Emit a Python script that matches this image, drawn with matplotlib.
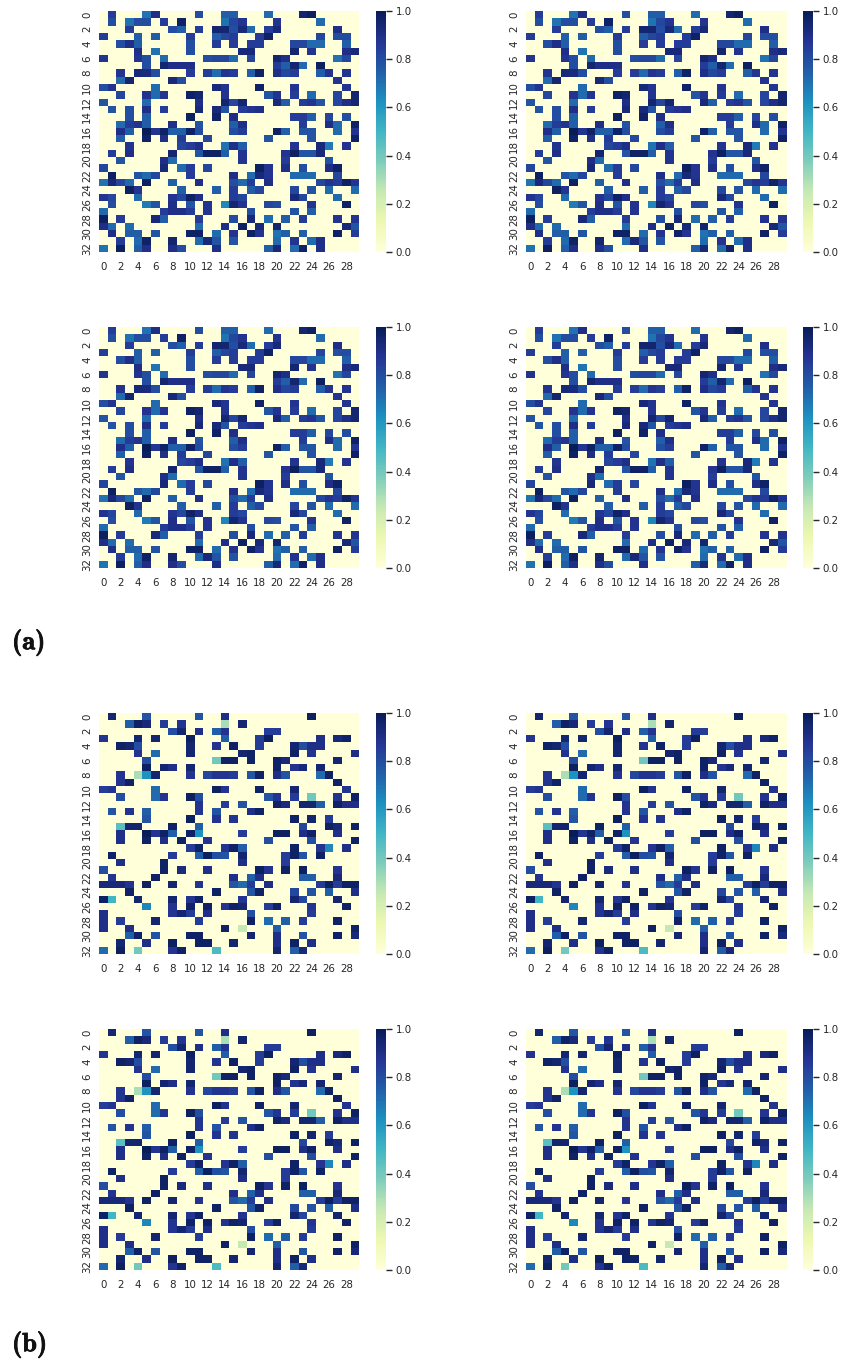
import numpy as np
import matplotlib
matplotlib.use('Agg')
import matplotlib.pyplot as plt
import matplotlib.patheffects as pe

W, H = 841, 1364
n_rows, n_cols = 33, 30
x_ticks = list(range(0, 30, 2))
y_ticks = list(range(0, 33, 2))
cbar_ticks = [0.0, 0.2, 0.4, 0.6, 0.8, 1.0]

# non zero cells per row, {column: value}
cells_a = [
    {1:.85,5:.7,6:.9,11:.8,14:.75,15:.75,19:.72,23:.95,24:.98},
    {1:.8,3:.7,4:.8,5:.8,7:.85,9:.97,14:.7,15:.82,16:.88,20:.88,25:.72},
    {3:.85,8:.8,9:.75,11:.85,13:.95,14:.95,15:.8,16:.93,17:.72,19:.85,20:.93,27:.9},
    {0:.85,4:.75,6:.75,10:.85,13:.75,14:.82,15:.85,18:.85,19:.97,25:.82,27:.8,28:.8},
    {2:.8,3:.9,4:.75,10:.8,13:.85,15:.85,17:.85,18:.85,22:.82,23:.82,24:.72,25:.72,28:.75},
    {4:.9,6:.7,10:.8,16:.93,17:.93,22:.95,24:.88,28:.9,29:.93},
    {0:.88,4:.88,5:.8,7:.72,12:.8,13:.82,14:.82,15:.72,17:.82,20:.95,21:.9,27:.7,28:.82},
    {5:.8,7:.95,8:.9,9:.9,10:.9,20:.85,21:.75,22:.95,23:.72,25:.98},
    {2:.88,4:.93,5:.92,6:.8,10:.85,12:.85,13:.72,14:.88,15:.85,17:.75,18:.97,20:.9,21:.82,22:.85,25:.75,26:.88,28:.88},
    {2:.72,3:.95,8:.93,9:.8,27:.88},
    {0:.8,1:.88,6:.72,13:.93,14:.88,18:.97,22:.88,28:.88},
    {2:.82,5:.88,6:.72,7:.88,10:.97,11:.95,14:.88,19:.78,20:.88,22:.85,24:.72,27:.82,29:.95},
    {0:.78,5:.72,11:.9,14:.95,15:.82,16:.95,20:.93,21:.75,23:.85,24:.88,25:.78,27:.82,28:.9,29:.95},
    {1:.78,3:.8,5:.9,7:.85,11:.93,13:.93,14:.78,16:.85,17:.88,18:.9},
    {3:.8,5:.75,10:.98,13:.97,15:.9,22:.85,23:.85,24:.75,26:.82,28:.8},
    {2:.72,3:.85,4:.88,5:.75,8:.9,11:.78,15:.75,16:.9,23:.85,26:.9,27:.72,29:.97},
    {2:.9,3:.75,5:1,6:.88,7:.97,8:.75,9:.75,10:.97,11:.8,15:.8,16:.85,20:.97,21:.75,23:.78,24:.78,27:.72,29:.88},
    {2:.75,5:.97,7:.9,9:.85,12:.82,19:.78,24:.78,29:.97},
    {3:.88,9:.82,10:.85,11:.9,14:.7,15:.9,16:.75,22:.88,25:.93,26:.68,28:.88},
    {1:.85,3:.9,8:.95,11:.78,12:.97,13:.97,14:.75,16:.88,21:.88,22:.98,23:.78,24:.78,25:.93},
    {2:.78,7:.9,8:.72,16:.88,21:.85,26:.78},
    {0:.82,7:.93,9:.72,10:.85,12:.82,18:.98,19:.88,21:.9,23:.8,26:.9,27:.97},
    {1:.98,4:.78,5:.72,6:.82,10:.85,15:.9,17:.72,18:.93,19:.88,22:.72,23:.72,24:.72,27:.82},
    {0:.7,1:.93,2:.82,3:.72,5:.98,8:.75,11:.9,15:.8,16:.72,17:.85,19:.9,25:.82,26:.88,27:.85,28:.97,29:.88},
    {3:.98,4:.88,9:.75,13:.75,15:.85,17:.75,18:.82,22:.82,24:.78,26:.72,29:.72},
    {0:.88,1:.82,4:.72,8:.88,9:.82,10:.97,11:.9,15:.85,16:.82,22:.93,23:.82,27:.72},
    {1:.8,5:.68,6:.78,8:.9,10:.78,12:.88,14:.65,15:.95,16:.88,19:.82,20:.8,24:.88,28:.97},
    {0:.72,7:.85,8:.9,9:.9,10:.85,12:.88,17:.8,22:.78,24:.75},
    {0:.98,2:.85,6:.93,7:.75,11:.85,15:.8,17:.93,19:.72,21:.75,23:.85,27:.88,29:.88},
    {0:.9,1:.72,3:.72,11:.72,14:.9,16:.97,18:.93,20:.95,28:.93,29:.78},
    {1:.9,3:.75,4:.75,6:.78,10:.97,11:.97,13:.72,15:.88,17:.97,18:.88,20:.7,21:.75,23:.75,27:.97,29:.85},
    {2:.85,4:.72,5:.97,8:.95,11:.72,12:.93,13:.78,15:.78,20:.72,22:.88,24:.72,25:.9},
    {0:.7,2:.98,4:.75,5:.9,8:.9,9:.8,13:.9,19:.75,20:.93,22:.72,23:.97,25:.9},
]

cells_b = [
    {1:.95,5:.78,11:.78,14:.9,24:.98},
    {3:.75,4:.97,5:.93,7:.85,9:.88,14:.3,16:.95},
    {8:.8,9:.95,11:.9,13:.75,14:.88,19:.85,20:.85},
    {0:.88,4:.95,6:.95,10:.98,14:.75,18:.85,19:.98,25:.9,27:.93,28:.97},
    {2:.97,3:.95,4:.8,10:.95,13:.88,15:.97,18:.85,22:.95,23:.8,24:.9,25:.9},
    {4:.88,6:.72,10:.95,16:.95,17:.97,22:.97,24:.88,29:.9},
    {5:.8,13:.4,14:.97,15:.97,17:.97,20:.97,21:.93,27:.95},
    {5:.98,7:.95,8:.9,10:.95,20:.97,22:.88,23:.93,25:.95},
    {2:.88,4:.3,5:.62,6:.95,10:.88,12:.82,13:.88,14:.88,15:.85,17:.78,18:.97,20:.9,21:.78,25:.72,26:.97},
    {2:.88,3:.97,27:.97},
    {0:.85,1:.88,6:.72,13:.98,14:.88,18:.97,22:.95,28:.88},
    {2:.8,6:.72,7:.88,10:.98,11:.8,19:.78,20:.88,22:.85,24:.4,27:.88,29:.97},
    {11:.88,14:.85,16:.78,20:.97,21:.92,23:.95,24:.95,25:.75,27:.97,28:.9,29:.9},
    {1:.78,3:.88,5:.75,11:.88,13:.78,17:.9,18:.97},
    {5:.78,10:.98,13:.88,15:.88,22:.97,24:.95,26:.85},
    {2:.45,3:.95,4:.95,8:.97,11:.75,23:.82,26:.97,27:.93,29:.97},
    {2:.9,5:1,6:.88,7:.97,8:.75,10:.97,11:.62,16:.85,20:.98,21:.98,23:.9,24:.97,27:.9},
    {2:.9,5:.97,7:.9,9:.97,12:.88,19:.8,24:.8,29:.97},
    {10:.85,11:.97,14:.88,15:.97,16:.75,22:.97,25:.88,26:.65,28:.9},
    {1:.97,8:.85,11:.75,12:.98,13:.8,14:.78,16:.95,21:.85,22:.97,23:.78,25:.97},
    {2:.9,7:.97,16:.9,21:.85},
    {0:.8,7:.97,9:.92,12:.9,18:.98,19:.88,21:.97,23:.98,27:.88},
    {1:.88,6:.97,15:.9,17:.75,18:.9,23:.75,24:.75,27:.93},
    {0:.93,1:.93,2:.93,3:.88,5:.97,8:.95,11:.88,15:.78,16:.72,17:.85,19:.9,25:.85,26:.98,27:.85,28:.97,29:.97},
    {3:.97,13:.97,17:.78,18:.97,22:.82,24:.78,26:.75,29:.9},
    {0:.97,1:.5,4:.95,8:.95,10:.88,11:.97,16:.88,22:.95,23:.82,27:.95},
    {5:.65,8:.88,10:.97,12:.97,14:.88,15:.97,16:.95,19:.85,20:.97,24:.88,28:.97},
    {0:.9,8:.88,9:.95,10:.85,12:.9,17:.8,24:.85},
    {0:.9,2:.85,6:.95,11:.85,17:.97,19:.72,21:.75,23:.85,27:.97},
    {0:.9,3:.9,14:.97,16:.25,20:.75,29:.97},
    {3:.75,4:.97,6:.78,10:.97,11:.97,17:.95,20:.9,23:.78,27:.97,29:.93},
    {2:.95,5:.9,8:.98,11:.97,12:.97,15:.95,20:.9,22:.97,24:.9},
    {0:.72,2:.98,4:.4,8:.88,9:.97,13:.48,20:.95,22:.75,23:.93},
]


def to_matrix(rows):
    m = np.zeros((n_rows, n_cols))
    for i, row in enumerate(rows):
        for j, v in row.items():
            m[i, j] = v
    return m


def px_axes(fig, x0, y0, x1, y1):
    return fig.add_axes([x0 / W, 1 - y1 / H, (x1 - x0) / W, (y1 - y0) / H])


def heatmap(fig, matrix, left, top):
    ax = px_axes(fig, left, top, left + 260.5, top + 241)
    mesh = ax.pcolormesh(matrix, cmap='YlGnBu', vmin=0, vmax=1)
    ax.invert_yaxis()
    ax.set_xticks([t + 0.5 for t in x_ticks], [str(t) for t in x_ticks])
    ax.set_yticks([t + 0.5 for t in y_ticks], [str(t) for t in y_ticks], rotation=90, va='center')
    ax.tick_params(length=0, labelsize=7.4, labelcolor='#262626')
    ax.tick_params(axis='x', pad=7)
    ax.tick_params(axis='y', pad=5)
    for s in ax.spines.values():
        s.set_visible(False)

    cax = px_axes(fig, left + 277, top, left + 287, top + 241)
    cb = fig.colorbar(mesh, cax=cax)
    cb.set_ticks(cbar_ticks)
    cb.ax.tick_params(length=4, width=1, color='#262626', labelsize=7.4, labelcolor='#262626', pad=3)
    cb.outline.set_visible(False)


fig = plt.figure(figsize=(W / 100, H / 100), dpi=100)

matrix_a = to_matrix(cells_a)
matrix_b = to_matrix(cells_b)

for top, m in [(11, matrix_a), (327, matrix_a), (713, matrix_b), (1029, matrix_b)]:
    heatmap(fig, m, 99, top)
    heatmap(fig, m, 526, top)

# panel letters, stroke makes the cm font as heavy as in the original
stroke = [pe.withStroke(linewidth=0.6, foreground='#111111')]
fig.text(12 / W, 1 - 643 / H, '(a)', family='cmb10', fontsize=19, color='#111111', va='center', path_effects=stroke)
fig.text(12 / W, 1 - 1345 / H, '(b)', family='cmb10', fontsize=19, color='#111111', va='center', path_effects=stroke)

fig.savefig('out.png', dpi=100)
